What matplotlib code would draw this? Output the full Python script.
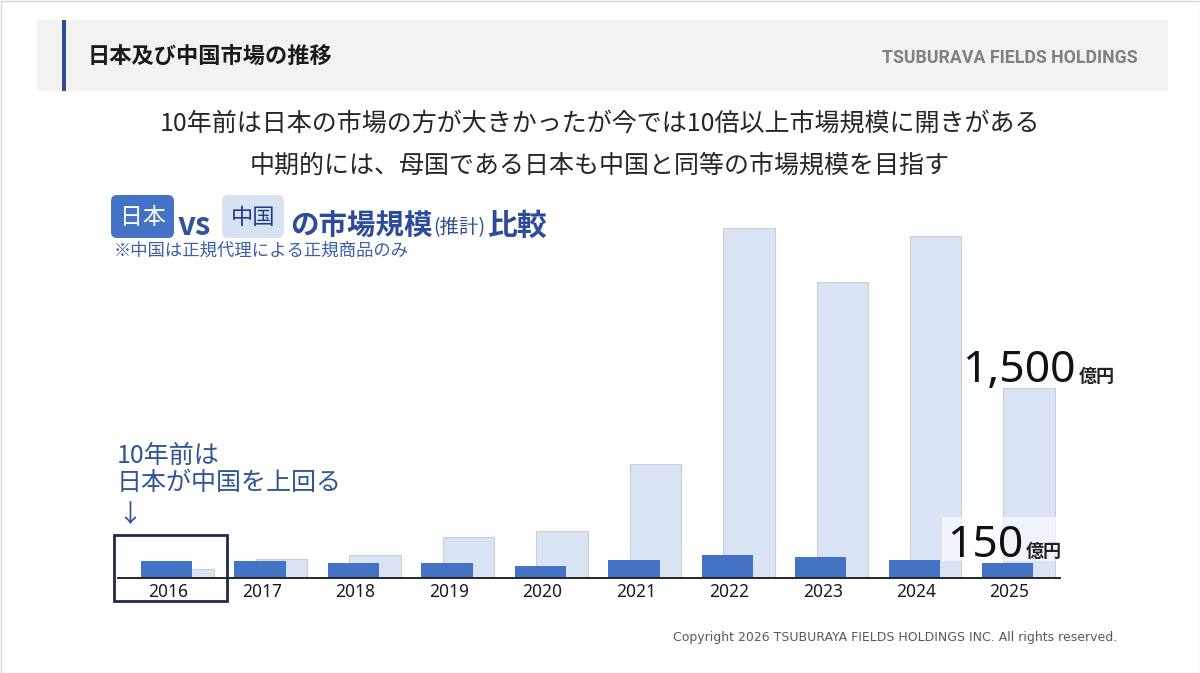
"""
日本 vs 中国 market size comparison slide
"""

import matplotlib
matplotlib.use('Agg')
import matplotlib.pyplot as plt
from matplotlib import font_manager
from matplotlib.patches import Rectangle, FancyBboxPatch
import numpy as np

# Data (億円)
years = ['2016', '2017', '2018', '2019', '2020', '2021', '2022', '2023', '2024', '2025']
japan = [130, 130, 112, 112, 90, 140, 180, 160, 140, 117]
china = [65, 150, 180, 320, 370, 900, 2770, 2340, 2710, 1500]
japan_label = '150'
china_label = '1,500'
unit = '億円'

title = '日本及び中国市場の推移'
company = 'TSUBURAVA FIELDS HOLDINGS'
lead1 = '10年前は日本の市場の方が大きかったが今では10倍以上市場規模に開きがある'
lead2 = '中期的には、母国である日本も中国と同等の市場規模を目指す'
note = '※中国は正規代理による正規商品のみ'
callout = ['10年前は', '日本が中国を上回る', '↓']
copyright_text = 'Copyright 2026 TSUBURAYA FIELDS HOLDINGS INC. All rights reserved.'

plt.rcParams['font.family'] = ['Noto Sans CJK JP', 'DejaVu Sans']
latin = ['Noto Sans', 'Noto Sans CJK JP', 'DejaVu Sans']

installed = {f.name for f in font_manager.fontManager.ttflist}
if 'Liberation Sans Narrow' in installed:
    company_font, company_size = ['Liberation Sans Narrow'], 14
else:
    company_font, company_size = ['Roboto', 'DejaVu Sans'], 12.8

W, H = 1200, 673
fig = plt.figure(figsize=(W / 100, H / 100), dpi=100)
fig.patch.set_facecolor('white')
renderer = fig.canvas.get_renderer()

# --- bar chart -------------------------------------------------------------
base_y, top_y = 577.5, 200
ax = fig.add_axes([118 / W, 1 - base_y / H, 942 / W, (base_y - top_y) / H])
x = np.arange(len(years))
ax.bar(x + 0.21, china, width=0.55, color='#DAE3F3', edgecolor='#C9CFD9',
       linewidth=0.8, zorder=1)
ax.bar(x - 0.02, japan, width=0.55, color='#4472C4', zorder=2)
ax.set_xlim(-0.54, 9.54)
ax.set_ylim(0, (base_y - top_y) * 1500 / 189.2)
ax.set_xticks(x)
ax.set_xticklabels(years, fontsize=12.5, color='#1a1a1a', family=latin)
ax.set_yticks([])
for s in ['top', 'left', 'right']:
    ax.spines[s].set_visible(False)
ax.spines['bottom'].set_color('#262626')
ax.spines['bottom'].set_linewidth(1.4)
ax.tick_params(axis='x', length=0, pad=4)
ax.patch.set_alpha(0)

# --- overlay in pixel coordinates -----------------------------------------
ov = fig.add_axes([0, 0, 1, 1], zorder=3)
ov.set_xlim(0, W)
ov.set_ylim(H, 0)
ov.axis('off')
ov.patch.set_alpha(0)


def after(t, s, gap, y, **kw):
    """Put text s right after text t (pixel gap), same baseline y."""
    x1 = t.get_window_extent(renderer).x1
    return ov.text(x1 + gap, y, s, va='baseline', **kw)


# slide frame
ov.add_patch(Rectangle((0.5, 0.5), W - 1, H - 1, fill=False, ec='#D6D6D6', lw=1))

# header band
ov.add_patch(Rectangle((37, 20), 1131, 71, fc='#F2F2F2', ec='none'))
ov.add_patch(Rectangle((62, 20), 4, 71, fc='#2E4C9A', ec='none'))
ov.text(88, 57, title, fontsize=16, fontweight='bold', color='#1a1a1a', va='center')
ov.text(1138, 58, company, fontsize=company_size, fontweight='bold', color='#808080',
        ha='right', va='center', family=company_font)

# lead text
ov.text(600, 124, lead1, fontsize=18, color='#262626', ha='center', va='center')
ov.text(600, 166, lead2, fontsize=18, color='#262626', ha='center', va='center')

# legend-like heading
ov.add_patch(FancyBboxPatch((111, 195), 63, 43, boxstyle='round,pad=0,rounding_size=6',
                            fc='#4472C4', ec='none'))
ov.text(142.5, 217, '日本', fontsize=16.5, color='white', ha='center', va='center')
ov.text(178, 235, 'vs', fontsize=22.5, fontweight='bold', color='#2F5597', va='baseline')
ov.add_patch(FancyBboxPatch((222, 195), 62, 43, boxstyle='round,pad=0,rounding_size=6',
                            fc='#D9E2F3', ec='none'))
ov.text(253, 217, '中国', fontsize=16, color='#1F3C88', ha='center', va='center')
h1 = ov.text(290, 235, 'の市場規模', fontsize=20.5, fontweight='bold', color='#2B4C9B',
             va='baseline')
h2 = after(h1, '(推計)', 1, 233, fontsize=14, color='#2B4C9B')
after(h2, '比較', 1, 235, fontsize=21.5, fontweight='bold', color='#2B4C9B')
ov.text(114, 251, note, fontsize=12.5, color='#3B5DAA', va='center')

# callout for 2016
for line, cy in zip(callout, [456, 483, 515]):
    ov.text(117, cy, line, fontsize=18, color='#2F5597', va='center')
ov.add_patch(Rectangle((114, 535), 113, 66, fill=False, ec='#1F2A44', lw=2))

# value labels
n1 = ov.text(962, 382, china_label, fontsize=32, color='#111111', va='baseline', family=latin)
after(n1, unit, 3, 382, fontsize=13, fontweight='bold', color='#222222')
ov.add_patch(Rectangle((942, 517), 120, 44, fc='white', ec='none', alpha=0.6))
n2 = ov.text(947, 557, japan_label, fontsize=32, color='#111111', va='baseline', family=latin)
after(n2, unit, 3, 557, fontsize=13, fontweight='bold', color='#222222')

# footer
ov.text(1117, 638, copyright_text, fontsize=9, color='#595959', ha='right',
        va='center', family=['DejaVu Sans'])

fig.savefig('out.png', dpi=100, facecolor='white')
plt.close(fig)
